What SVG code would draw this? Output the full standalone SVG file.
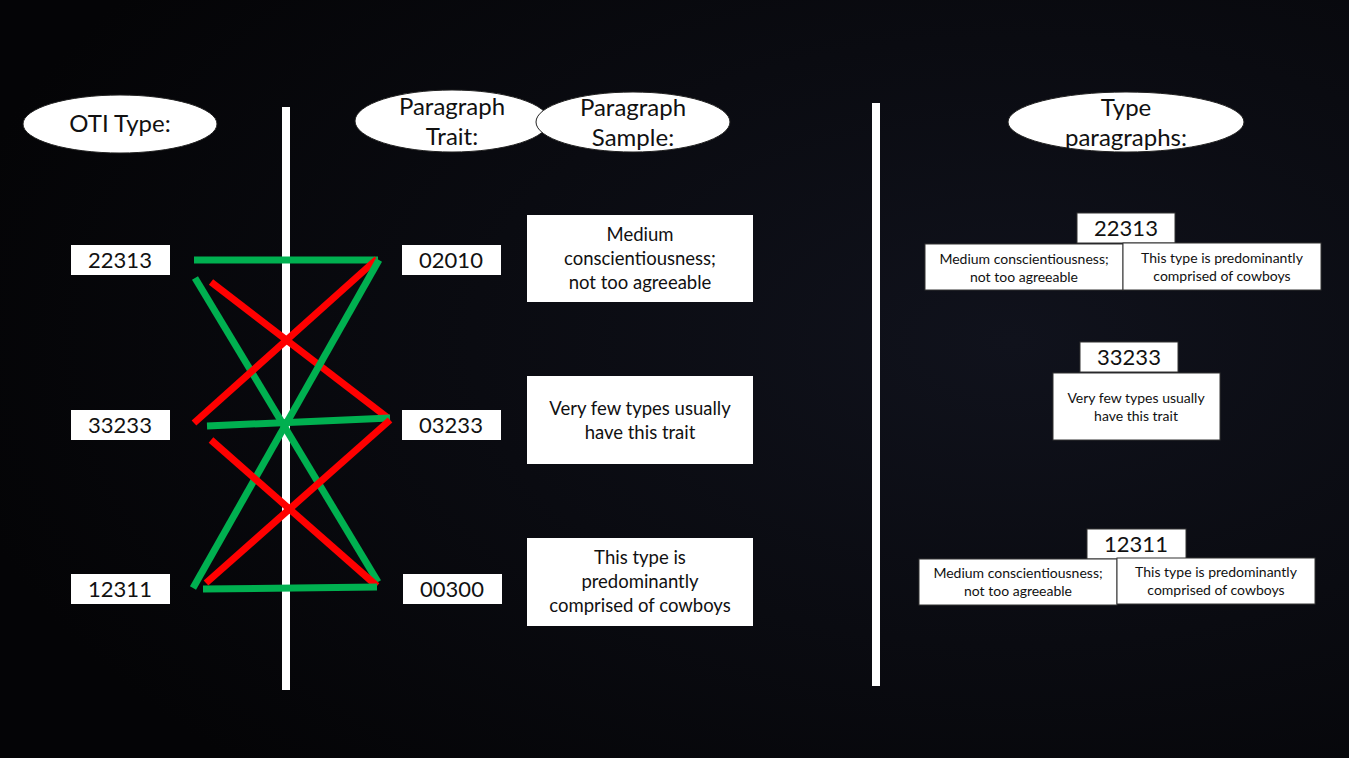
<svg xmlns="http://www.w3.org/2000/svg" width="1349" height="758" viewBox="0 0 1349 758">
<defs>
<radialGradient id="bg" cx="0.75" cy="0.45" r="0.8">
<stop offset="0" stop-color="#10121c"/>
<stop offset="1" stop-color="#040406"/>
</radialGradient>
<style>
text{font-family:"Source Sans Pro",Lato,"Open Sans",sans-serif;fill:#111;text-anchor:middle}
.ell{fill:#fff;stroke:#222;stroke-width:1}
.box{fill:#fff}
.sbox{fill:#fff;stroke:#333;stroke-width:1}
.h{font-size:24px}
.num{font-size:22px}
.p{font-size:18.5px}
.s{font-size:14px}
.g{stroke:#00B050;stroke-width:7;stroke-linecap:butt}
.r{stroke:#FF0000;stroke-width:7;stroke-linecap:butt}
.div{stroke:#fff;stroke-width:8}
</style>
</defs>
<rect width="1349" height="758" fill="url(#bg)"/>
<g id="dividers">
<line class="div" x1="286" y1="107" x2="286" y2="690"/>
<line class="div" x1="876" y1="103" x2="876" y2="686"/>
</g>
<g id="h-oti"><ellipse class="ell" cx="120" cy="124" rx="97" ry="29"/><text class="h" x="120" y="132">OTI Type:</text></g>
<g id="h-trait"><ellipse class="ell" cx="452" cy="121" rx="97" ry="31"/><text class="h" x="452" y="115">Paragraph</text><text class="h" x="452" y="145">Trait:</text></g>
<g id="h-sample"><ellipse class="ell" cx="633" cy="122" rx="97" ry="30"/><text class="h" x="633" y="116">Paragraph</text><text class="h" x="633" y="146">Sample:</text></g>
<g id="h-typepar"><ellipse class="ell" cx="1126" cy="122" rx="118" ry="30"/><text class="h" x="1126" y="116">Type</text><text class="h" x="1126" y="146">paragraphs:</text></g>
<g id="connectors">
<line class="g" x1="194" y1="260" x2="378" y2="260"/>
<line class="g" x1="195" y1="278" x2="378" y2="582"/>
<line class="r" x1="211" y1="282" x2="388" y2="418"/>
<line class="r" x1="194" y1="423" x2="377" y2="259"/>
<line class="g" x1="207" y1="426" x2="390" y2="418"/>
<line class="g" x1="193" y1="588" x2="379" y2="260"/>
<line class="r" x1="211" y1="440" x2="377" y2="586"/>
<line class="r" x1="206" y1="583" x2="390" y2="420"/>
<line class="g" x1="203" y1="589" x2="377" y2="587"/>
</g>
<g id="t-22313"><rect class="box" x="71" y="245" width="99" height="30"/><text class="num" x="120" y="268">22313</text></g>
<g id="t-33233"><rect class="box" x="71" y="410" width="99" height="30"/><text class="num" x="120" y="433">33233</text></g>
<g id="t-12311"><rect class="box" x="71" y="574" width="99" height="30"/><text class="num" x="120" y="597">12311</text></g>
<g id="p-02010"><rect class="box" x="402" y="245" width="99" height="30"/><text class="num" x="451" y="268">02010</text></g>
<g id="p-03233"><rect class="box" x="402" y="410" width="99" height="30"/><text class="num" x="451" y="433">03233</text></g>
<g id="p-00300"><rect class="box" x="403" y="574" width="99" height="30"/><text class="num" x="452" y="597">00300</text></g>
<g id="s-1"><rect class="box" x="527" y="215" width="226" height="87"/><text class="p" x="640" y="241">Medium</text><text class="p" x="640" y="265">conscientiousness;</text><text class="p" x="640" y="289">not too agreeable</text></g>
<g id="s-2"><rect class="box" x="527" y="376" width="226" height="88"/><text class="p" x="640" y="415">Very few types usually</text><text class="p" x="640" y="439">have this trait</text></g>
<g id="s-3"><rect class="box" x="527" y="538" width="226" height="88"/><text class="p" x="640" y="564">This type is</text><text class="p" x="640" y="588">predominantly</text><text class="p" x="640" y="612">comprised of cowboys</text></g>
<g id="r-22313">
<rect class="sbox" x="1077" y="213" width="98" height="30"/><text class="num" x="1126" y="236">22313</text>
<rect class="sbox" x="925" y="244" width="198" height="46"/><text class="s" x="1024" y="264">Medium conscientiousness;</text><text class="s" x="1024" y="282">not too agreeable</text>
<rect class="sbox" x="1123" y="243" width="198" height="47"/><text class="s" x="1222" y="263">This type is predominantly</text><text class="s" x="1222" y="281">comprised of cowboys</text>
</g>
<g id="r-33233">
<rect class="sbox" x="1080" y="342" width="98" height="30"/><text class="num" x="1129" y="365">33233</text>
<rect class="sbox" x="1053" y="373" width="167" height="67"/><text class="s" x="1136" y="403">Very few types usually</text><text class="s" x="1136" y="421">have this trait</text>
</g>
<g id="r-12311">
<rect class="sbox" x="1087" y="529" width="99" height="30"/><text class="num" x="1136" y="552">12311</text>
<rect class="sbox" x="919" y="559" width="198" height="46"/><text class="s" x="1018" y="578">Medium conscientiousness;</text><text class="s" x="1018" y="596">not too agreeable</text>
<rect class="sbox" x="1117" y="558" width="198" height="46"/><text class="s" x="1216" y="577">This type is predominantly</text><text class="s" x="1216" y="595">comprised of cowboys</text>
</g>
</svg>
